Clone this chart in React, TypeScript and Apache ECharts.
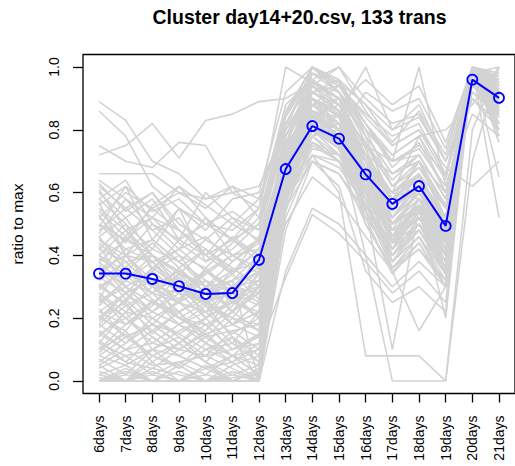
import React, { useEffect, useRef } from "react";
import * as echarts from "echarts";

const chartTitle = "Cluster day14+20.csv, 133 trans";
const yAxisTitle = "ratio to max";
const days = [
  "6days", "7days", "8days", "9days", "10days", "11days", "12days", "13days",
  "14days", "15days", "16days", "17days", "18days", "19days", "20days", "21days",
];
const yTicks = [0, 0.2, 0.4, 0.6, 0.8, 1.0];
const meanRatio = [
  0.342, 0.342, 0.325, 0.302, 0.277, 0.28, 0.386, 0.675,
  0.812, 0.772, 0.658, 0.564, 0.621, 0.494, 0.96, 0.902,
];
const transcriptProfiles = [
  [0.89, 0.83, 0.7, 0.66, 0.58, 0.6, 0.62, 0.8, 0.92, 0.88, 0.75, 0.62, 0.7, 0.55, 1.0, 0.95],
  [0.86, 0.78, 0.62, 0.55, 0.5, 0.45, 0.4, 0.7, 0.85, 0.8, 0.7, 0.58, 0.66, 0.5, 1.0, 0.92],
  [0.75, 0.7, 0.68, 0.76, 0.75, 0.6, 0.55, 0.75, 0.88, 0.9, 0.72, 0.66, 0.7, 0.6, 0.98, 1.0],
  [0.72, 0.75, 0.82, 0.71, 0.83, 0.85, 0.89, 0.9, 0.95, 0.92, 0.8, 0.7, 0.75, 0.66, 1.0, 0.94],
  [0.66, 0.66, 0.66, 0.6, 0.55, 0.62, 0.58, 0.85, 1.0, 0.95, 0.8, 0.72, 0.78, 0.6, 0.96, 0.9],
  [0.62, 0.55, 0.48, 0.52, 0.4, 0.45, 0.5, 0.78, 0.9, 0.85, 0.65, 0.55, 0.62, 0.45, 1.0, 0.88],
  [0.58, 0.64, 0.5, 0.45, 0.6, 0.52, 0.48, 0.82, 0.96, 0.9, 0.7, 0.6, 0.58, 0.5, 1.0, 0.95],
  [0.55, 0.48, 0.4, 0.35, 0.3, 0.38, 0.45, 0.72, 0.8, 0.78, 0.62, 0.5, 0.6, 0.48, 1.0, 0.9],
  [0.52, 0.6, 0.55, 0.48, 0.42, 0.35, 0.38, 0.65, 0.78, 0.85, 0.72, 0.58, 0.64, 0.52, 1.0, 0.93],
  [0.5, 0.42, 0.45, 0.38, 0.32, 0.28, 0.35, 0.7, 0.88, 0.82, 0.66, 0.54, 0.66, 0.48, 1.0, 0.86],
  [0.48, 0.55, 0.6, 0.5, 0.45, 0.4, 0.42, 0.6, 0.75, 0.7, 0.6, 0.48, 0.55, 0.45, 1.0, 0.97],
  [0.45, 0.38, 0.3, 0.28, 0.25, 0.3, 0.35, 0.75, 1.0, 0.92, 0.8, 0.7, 0.72, 0.58, 0.95, 0.85],
  [0.42, 0.5, 0.35, 0.4, 0.3, 0.22, 0.3, 0.68, 0.82, 0.76, 0.58, 0.52, 0.6, 0.46, 1.0, 0.91],
  [0.4, 0.32, 0.38, 0.3, 0.35, 0.28, 0.4, 0.62, 0.76, 0.72, 0.62, 0.5, 0.58, 0.42, 1.0, 0.88],
  [0.38, 0.45, 0.4, 0.32, 0.2, 0.25, 0.32, 0.58, 0.72, 0.68, 0.56, 0.44, 0.52, 0.4, 1.0, 0.92],
  [0.36, 0.3, 0.25, 0.22, 0.28, 0.18, 0.25, 0.66, 0.84, 0.8, 0.68, 0.58, 0.62, 0.5, 1.0, 0.95],
  [0.35, 0.4, 0.45, 0.38, 0.3, 0.35, 0.42, 0.7, 0.9, 0.86, 0.76, 0.62, 0.68, 0.55, 1.0, 0.9],
  [0.33, 0.28, 0.32, 0.25, 0.22, 0.3, 0.28, 0.55, 0.7, 0.66, 0.52, 0.4, 0.48, 0.35, 1.0, 0.94],
  [0.3, 0.35, 0.28, 0.33, 0.25, 0.2, 0.3, 0.64, 0.8, 0.74, 0.6, 0.45, 0.55, 0.42, 1.0, 0.89],
  [0.28, 0.22, 0.2, 0.25, 0.18, 0.22, 0.35, 0.72, 0.86, 0.82, 0.7, 0.6, 0.65, 0.52, 1.0, 0.96],
  [0.25, 0.3, 0.22, 0.18, 0.22, 0.15, 0.2, 0.6, 0.78, 0.7, 0.56, 0.48, 0.55, 0.4, 1.0, 0.92],
  [0.22, 0.18, 0.25, 0.2, 0.15, 0.18, 0.25, 0.68, 0.82, 0.78, 0.64, 0.52, 0.6, 0.48, 1.0, 0.9],
  [0.2, 0.25, 0.15, 0.22, 0.12, 0.2, 0.18, 0.58, 0.74, 0.72, 0.58, 0.46, 0.52, 0.38, 1.0, 0.93],
  [0.18, 0.12, 0.18, 0.15, 0.1, 0.12, 0.22, 0.65, 0.8, 0.76, 0.66, 0.55, 0.62, 0.5, 1.0, 0.88],
  [0.15, 0.2, 0.12, 0.1, 0.15, 0.08, 0.15, 0.62, 0.84, 0.8, 0.62, 0.5, 0.58, 0.45, 1.0, 0.95],
  [0.12, 0.08, 0.1, 0.14, 0.08, 0.1, 0.12, 0.55, 0.76, 0.7, 0.56, 0.44, 0.5, 0.4, 1.0, 0.9],
  [0.1, 0.15, 0.08, 0.05, 0.12, 0.06, 0.1, 0.7, 0.92, 0.88, 0.72, 0.6, 0.68, 0.55, 1.0, 0.92],
  [0.08, 0.05, 0.1, 0.08, 0.04, 0.08, 0.05, 0.6, 0.8, 0.75, 0.62, 0.5, 0.56, 0.46, 1.0, 0.94],
  [0.05, 0.1, 0.05, 0.06, 0.08, 0.04, 0.0, 0.52, 0.72, 0.7, 0.58, 0.48, 0.54, 0.44, 1.0, 0.96],
  [0.03, 0.0, 0.04, 0.02, 0.0, 0.03, 0.0, 0.48, 0.7, 0.66, 0.54, 0.42, 0.5, 0.38, 1.0, 0.91],
  [0.0, 0.02, 0.0, 0.0, 0.02, 0.0, 0.0, 0.35, 0.55, 0.5, 0.4, 0.3, 0.38, 0.3, 1.0, 0.88],
  [0.0, 0.0, 0.0, 0.03, 0.0, 0.0, 0.0, 0.6, 0.86, 0.82, 0.7, 0.58, 0.62, 0.5, 1.0, 0.93],
  [0.02, 0.05, 0.0, 0.0, 0.0, 0.02, 0.05, 0.66, 0.98, 0.92, 0.78, 0.66, 0.7, 0.56, 0.94, 0.86],
  [0.0, 0.0, 0.02, 0.0, 0.05, 0.0, 0.0, 0.75, 1.0, 0.96, 0.82, 0.7, 0.74, 0.62, 0.9, 0.82],
  [0.3, 0.25, 0.35, 0.28, 0.2, 0.3, 0.38, 0.72, 0.88, 0.85, 1.0, 0.8, 0.88, 0.7, 0.9, 0.8],
  [0.4, 0.35, 0.3, 0.35, 0.28, 0.32, 0.4, 0.7, 0.82, 0.78, 0.75, 0.7, 1.0, 0.62, 0.85, 0.78],
  [0.35, 0.4, 0.32, 0.3, 0.25, 0.28, 0.3, 0.62, 0.72, 0.6, 0.08, 0.08, 0.08, 0.0, 0.7, 1.0],
  [0.2, 0.28, 0.22, 0.3, 0.25, 0.18, 0.22, 0.58, 0.82, 0.75, 0.4, 0.0, 0.0, 0.0, 0.8, 1.0],
  [0.45, 0.4, 0.38, 0.42, 0.35, 0.3, 0.35, 0.68, 0.9, 0.8, 0.55, 0.1, 0.55, 0.4, 1.0, 0.88],
  [0.25, 0.32, 0.28, 0.2, 0.25, 0.3, 0.28, 0.65, 0.85, 0.78, 0.5, 0.35, 0.16, 0.3, 1.0, 0.9],
  [0.38, 0.3, 0.35, 0.28, 0.32, 0.25, 0.3, 0.7, 0.88, 0.82, 0.65, 0.5, 0.55, 0.2, 1.0, 0.86],
  [0.32, 0.38, 0.3, 0.35, 0.28, 0.3, 0.32, 0.75, 0.95, 0.9, 0.7, 0.58, 0.65, 0.52, 1.0, 0.52],
  [0.28, 0.2, 0.25, 0.3, 0.22, 0.25, 0.28, 0.72, 0.9, 0.86, 0.72, 0.6, 0.66, 0.55, 1.0, 0.65],
  [0.42, 0.38, 0.4, 0.35, 0.3, 0.32, 0.36, 0.8, 1.0, 0.94, 0.84, 0.75, 0.8, 0.68, 0.62, 0.7],
  [0.15, 0.1, 0.12, 0.18, 0.12, 0.08, 0.1, 0.33, 0.53, 0.47, 0.38, 0.28, 0.35, 0.25, 1.0, 0.92],
  [0.22, 0.28, 0.2, 0.15, 0.2, 0.25, 0.22, 0.58, 0.7, 0.62, 0.35, 0.25, 0.3, 0.22, 1.0, 0.9],
  [0.3, 0.35, 0.28, 0.25, 0.3, 0.22, 0.28, 0.62, 0.78, 0.72, 0.66, 0.6, 0.78, 0.8, 0.88, 1.0],
  [0.5, 0.45, 0.52, 0.48, 0.4, 0.45, 0.55, 1.0, 0.95, 0.9, 0.78, 0.66, 0.72, 0.58, 0.92, 0.85],
  [0.6, 0.52, 0.58, 0.45, 0.5, 0.48, 0.55, 0.88, 0.96, 1.0, 0.86, 0.75, 0.8, 0.65, 0.95, 0.88],
  [0.56, 0.62, 0.45, 0.55, 0.48, 0.58, 0.6, 0.92, 1.0, 0.96, 0.88, 0.8, 0.84, 0.7, 0.92, 0.84],
  [0.46, 0.35, 0.42, 0.55, 0.38, 0.42, 0.5, 0.85, 0.98, 0.94, 0.85, 0.78, 0.82, 0.66, 0.96, 0.9],
  [0.26, 0.4, 0.5, 0.42, 0.52, 0.45, 0.38, 0.78, 0.94, 1.0, 0.9, 0.82, 0.85, 0.7, 0.98, 0.92],
  [0.12, 0.22, 0.3, 0.25, 0.35, 0.4, 0.45, 0.82, 0.98, 0.95, 0.88, 0.76, 0.86, 0.72, 1.0, 0.96],
  [0.05, 0.0, 0.08, 0.12, 0.18, 0.1, 0.15, 0.76, 0.92, 0.94, 0.82, 0.72, 0.78, 0.64, 1.0, 0.98],
  [0.0, 0.04, 0.0, 0.0, 0.0, 0.05, 0.08, 0.62, 0.9, 0.86, 0.76, 0.64, 0.72, 0.58, 1.0, 0.94],
  [0.18, 0.26, 0.35, 0.45, 0.4, 0.5, 0.58, 0.82, 0.86, 0.8, 0.92, 0.86, 0.9, 0.74, 1.0, 0.9],
  [0.64, 0.58, 0.52, 0.62, 0.56, 0.5, 0.45, 0.74, 0.84, 0.88, 0.96, 0.88, 0.94, 0.76, 1.0, 0.92],
  [0.34, 0.46, 0.55, 0.6, 0.58, 0.62, 0.52, 0.86, 1.0, 0.92, 0.82, 0.68, 0.76, 0.6, 0.96, 0.8],
  [0.1, 0.18, 0.22, 0.28, 0.35, 0.3, 0.25, 0.5, 0.65, 0.58, 0.46, 0.35, 0.42, 0.3, 1.0, 0.88],
  [0.58, 0.5, 0.42, 0.38, 0.45, 0.52, 0.44, 0.7, 0.9, 0.84, 0.6, 0.42, 0.58, 0.4, 1.0, 0.86],
  [0.52, 0.44, 0.56, 0.62, 0.52, 0.4, 0.34, 0.62, 0.82, 0.78, 0.54, 0.38, 0.46, 0.32, 1.0, 0.8],
  [0.47, 0.58, 0.48, 0.4, 0.36, 0.44, 0.52, 0.8, 0.94, 0.9, 0.7, 0.48, 0.62, 0.44, 1.0, 0.78],
  [0.44, 0.36, 0.28, 0.34, 0.42, 0.36, 0.3, 0.64, 0.86, 0.8, 0.62, 0.4, 0.5, 0.36, 1.0, 0.84],
  [0.4, 0.48, 0.52, 0.44, 0.38, 0.46, 0.4, 0.76, 0.92, 0.86, 0.66, 0.46, 0.56, 0.42, 1.0, 0.98],
  [0.37, 0.28, 0.36, 0.42, 0.46, 0.38, 0.44, 0.72, 0.84, 0.76, 0.58, 0.36, 0.44, 0.3, 0.98, 0.82],
  [0.33, 0.42, 0.38, 0.28, 0.34, 0.4, 0.36, 0.66, 0.8, 0.82, 0.64, 0.44, 0.48, 0.36, 1.0, 0.76],
  [0.29, 0.36, 0.44, 0.36, 0.28, 0.34, 0.46, 0.78, 0.96, 0.88, 0.72, 0.52, 0.64, 0.46, 1.0, 0.88],
  [0.27, 0.18, 0.24, 0.34, 0.3, 0.26, 0.32, 0.7, 0.86, 0.78, 0.6, 0.42, 0.54, 0.38, 1.0, 0.94],
  [0.24, 0.32, 0.4, 0.3, 0.24, 0.36, 0.3, 0.68, 0.84, 0.9, 0.74, 0.56, 0.62, 0.48, 1.0, 0.82],
  [0.21, 0.14, 0.18, 0.26, 0.32, 0.22, 0.28, 0.74, 0.9, 0.84, 0.68, 0.46, 0.58, 0.4, 1.0, 0.96],
  [0.19, 0.28, 0.32, 0.2, 0.16, 0.28, 0.24, 0.64, 0.88, 0.82, 0.62, 0.38, 0.5, 0.34, 1.0, 0.9],
  [0.16, 0.1, 0.16, 0.22, 0.26, 0.18, 0.14, 0.6, 0.8, 0.74, 0.52, 0.34, 0.44, 0.3, 1.0, 0.86],
  [0.14, 0.22, 0.1, 0.16, 0.2, 0.26, 0.2, 0.66, 0.86, 0.84, 0.7, 0.5, 0.6, 0.44, 1.0, 0.78],
  [0.11, 0.06, 0.14, 0.08, 0.14, 0.16, 0.18, 0.72, 0.94, 0.86, 0.64, 0.44, 0.56, 0.4, 1.0, 0.92],
  [0.09, 0.16, 0.06, 0.12, 0.06, 0.14, 0.08, 0.58, 0.82, 0.76, 0.56, 0.4, 0.48, 0.36, 1.0, 0.84],
  [0.07, 0.02, 0.1, 0.04, 0.1, 0.06, 0.12, 0.68, 0.9, 0.86, 0.66, 0.46, 0.62, 0.42, 1.0, 0.8],
  [0.04, 0.08, 0.02, 0.06, 0.02, 0.08, 0.02, 0.54, 0.78, 0.82, 0.6, 0.42, 0.5, 0.38, 1.0, 0.97],
  [0.02, 0.0, 0.06, 0.0, 0.04, 0.0, 0.04, 0.64, 0.88, 0.8, 0.58, 0.38, 0.46, 0.34, 1.0, 0.86],
  [0.0, 0.03, 0.0, 0.05, 0.0, 0.02, 0.0, 0.7, 0.96, 0.9, 0.74, 0.54, 0.66, 0.5, 1.0, 0.9],
  [0.0, 0.0, 0.0, 0.0, 0.0, 0.0, 0.0, 0.56, 0.84, 0.78, 0.62, 0.44, 0.54, 0.4, 1.0, 0.82],
  [0.01, 0.0, 0.03, 0.0, 0.0, 0.01, 0.02, 0.66, 0.92, 0.96, 0.78, 0.56, 0.7, 0.52, 1.0, 0.88],
  [0.06, 0.12, 0.2, 0.14, 0.06, 0.0, 0.03, 0.74, 1.0, 0.92, 0.7, 0.5, 0.6, 0.46, 0.96, 0.9],
  [0.54, 0.46, 0.38, 0.3, 0.24, 0.2, 0.16, 0.58, 0.76, 0.7, 0.5, 0.36, 0.42, 0.32, 1.0, 0.94],
  [0.63, 0.54, 0.6, 0.48, 0.4, 0.34, 0.42, 0.74, 0.86, 0.8, 0.66, 0.48, 0.52, 0.38, 1.0, 0.92],
  [0.49, 0.62, 0.54, 0.58, 0.5, 0.54, 0.48, 0.84, 0.98, 0.92, 0.76, 0.58, 0.7, 0.5, 1.0, 0.86],
  [0.43, 0.3, 0.22, 0.18, 0.14, 0.22, 0.16, 0.62, 0.8, 0.72, 0.54, 0.36, 0.46, 0.3, 1.0, 0.96],
  [0.31, 0.24, 0.16, 0.1, 0.08, 0.16, 0.1, 0.6, 0.82, 0.76, 0.58, 0.4, 0.52, 0.36, 1.0, 0.92],
  [0.17, 0.24, 0.28, 0.36, 0.42, 0.34, 0.26, 0.7, 0.92, 0.88, 0.7, 0.52, 0.62, 0.46, 1.0, 0.85],
  [0.23, 0.14, 0.08, 0.04, 0.1, 0.14, 0.06, 0.66, 0.84, 0.8, 0.64, 0.46, 0.56, 0.42, 1.0, 0.9],
  [0.39, 0.34, 0.26, 0.2, 0.18, 0.1, 0.14, 0.64, 0.9, 0.84, 0.66, 0.5, 0.58, 0.44, 1.0, 0.93],
  [0.61, 0.48, 0.36, 0.3, 0.26, 0.18, 0.22, 0.72, 0.88, 0.94, 0.8, 0.62, 0.7, 0.52, 1.0, 0.87],
  [0.53, 0.4, 0.32, 0.26, 0.36, 0.28, 0.2, 0.68, 0.94, 0.88, 0.72, 0.52, 0.64, 0.48, 1.0, 0.95],
  [0.13, 0.06, 0.04, 0.1, 0.16, 0.24, 0.34, 0.76, 0.92, 0.86, 0.68, 0.5, 0.6, 0.44, 1.0, 0.89],
  [0.08, 0.14, 0.18, 0.12, 0.2, 0.12, 0.06, 0.6, 0.78, 0.8, 0.62, 0.44, 0.58, 0.4, 1.0, 0.95],
  [0.26, 0.2, 0.14, 0.08, 0.04, 0.06, 0.0, 0.62, 0.86, 0.8, 0.6, 0.42, 0.54, 0.36, 1.0, 0.91],
  [0.36, 0.26, 0.18, 0.12, 0.06, 0.02, 0.0, 0.68, 0.9, 0.82, 0.64, 0.46, 0.56, 0.4, 1.0, 0.87],
  [0.57, 0.4, 0.3, 0.22, 0.14, 0.08, 0.02, 0.72, 0.92, 0.86, 0.7, 0.52, 0.62, 0.46, 1.0, 0.93],
  [0.46, 0.52, 0.4, 0.34, 0.26, 0.32, 0.0, 0.66, 0.84, 0.78, 0.62, 0.44, 0.52, 0.38, 1.0, 0.9],
  [0.2, 0.16, 0.26, 0.18, 0.24, 0.14, 0.0, 0.58, 0.8, 0.74, 0.56, 0.38, 0.48, 0.34, 1.0, 0.86],
];

const FONT = "'Liberation Sans', Arial, Helvetica, sans-serif";
const dayIndex = days.map((_, i) => i);

export default function App() {
  const ref = useRef<HTMLDivElement>(null);
  useEffect(() => {
    if (!ref.current) return;
    const chart = echarts.init(ref.current, undefined, { renderer: "svg" });
    const grayLines = transcriptProfiles.map((p) => ({
      type: "line",
      data: p.map((v, i) => [i, v]),
      symbol: "none",
      silent: true,
      z: 1,
      lineStyle: { color: "#d3d3d3", width: 1.6 },
    }));
    chart.setOption({
      animation: false,
      backgroundColor: "#ffffff",
      grid: {
        left: 83,
        top: 54.5,
        width: 433,
        height: 339,
        show: true,
        borderColor: "#000",
        borderWidth: 1.3,
        backgroundColor: "transparent",
      },
      graphic: [
        {
          type: "text",
          x: 299.5,
          y: 17,
          style: {
            text: chartTitle,
            font: `bold 19.5px ${FONT}`,
            fill: "#000",
            textAlign: "center",
            textVerticalAlign: "middle",
          },
        },
      ],
      xAxis: {
        type: "value",
        min: -0.6,
        max: 15.6,
        axisLine: { show: false, onZero: false },
        splitLine: { show: false },
        axisTick: {
          show: true,
          customValues: dayIndex,
          length: 9,
          lineStyle: { color: "#000", width: 1.3 },
        },
        axisLabel: {
          customValues: dayIndex,
          rotate: 90,
          margin: 22,
          color: "#000",
          fontFamily: FONT,
          fontSize: 14,
          formatter: (v: number) => days[Math.round(v)],
        },
      },
      yAxis: {
        type: "value",
        min: -0.04,
        max: 1.04,
        name: yAxisTitle,
        nameLocation: "middle",
        nameGap: 58,
        nameRotate: 90,
        nameTextStyle: { color: "#000", fontFamily: FONT, fontSize: 15.5 },
        axisLine: { show: false, onZero: false },
        splitLine: { show: false },
        axisTick: {
          show: true,
          customValues: yTicks,
          length: 10,
          lineStyle: { color: "#000", width: 1.3 },
        },
        axisLabel: {
          customValues: yTicks,
          rotate: 90,
          margin: 22,
          color: "#000",
          fontFamily: FONT,
          fontSize: 14,
          formatter: (v: number) => v.toFixed(1),
        },
      },
      series: [
        ...grayLines,
        {
          type: "line",
          data: meanRatio.map((v, i) => [i, v]),
          symbol: "circle",
          symbolSize: 10,
          z: 5,
          lineStyle: { color: "#0000ff", width: 2 },
          itemStyle: { color: "rgba(0,0,0,0)", borderColor: "#0000ff", borderWidth: 1.8 },
        },
      ],
    });
    return () => chart.dispose();
  }, []);
  return (
    <div
      ref={ref}
      style={{ position: "absolute", left: 0, top: 0, width: 515, height: 466, background: "#fff" }}
    />
  );
}
